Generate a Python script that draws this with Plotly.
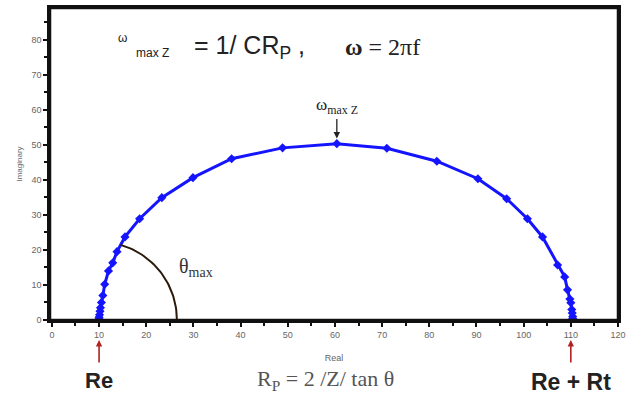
import numpy as np
import plotly.graph_objects as go

# Nyquist data (Real, Imaginary)
real = [10.0, 10.0, 10.1, 10.2, 10.3, 10.5, 10.8, 11.2, 12.0, 12.9, 13.8, 15.5, 18.6, 23.3,
        29.9, 38.1, 48.9, 60.4, 71.0, 81.6, 90.3, 96.4, 100.8, 104.0, 107.2, 108.7,
        109.3, 109.8, 110.0, 110.2, 110.3, 110.4, 110.4]
imag = [0.3, 0.8, 1.5, 2.5, 3.5, 5.0, 7.0, 10.2, 14.0, 16.3, 19.5, 23.7, 28.9, 34.9,
        40.6, 46.0, 49.1, 50.3, 49.0, 45.3, 40.3, 34.6, 28.9, 23.7, 15.7, 12.3,
        8.6, 6.0, 4.9, 3.0, 2.0, 1.0, 0.4]

x_ticks = [0, 10, 20, 30, 40, 50, 60, 70, 80, 90, 100, 110, 120]
y_ticks = [0, 10, 20, 30, 40, 50, 60, 70, 80]

Re = 10
ReRt = 110
theta_max_deg = 74

fig = go.Figure()

fig.add_trace(go.Scatter(
    x=real, y=imag, mode="lines+markers",
    line=dict(color="#1414ff", width=3),
    marker=dict(symbol="diamond", size=7, color="#1414ff"),
    showlegend=False, hoverinfo="skip"))

# theta arc (circular in pixels: ~4.72 px per x unit, ~3.5 px per y unit)
ang = np.linspace(0, np.radians(theta_max_deg), 40)
rx, ry = 16.5, 22.3
fig.add_trace(go.Scatter(
    x=Re + rx * np.cos(ang), y=ry * np.sin(ang), mode="lines",
    line=dict(color="#2b1a0a", width=2), showlegend=False, hoverinfo="skip"))

axis_common = dict(
    showgrid=False, zeroline=False, showline=True, linecolor="#111", linewidth=2.5,
    mirror=True, ticks="outside", ticklen=4, tickcolor="#111", tickwidth=2,
    automargin=False,
    minor=dict(dtick=5, ticks="outside", ticklen=3, tickcolor="#111", tickwidth=1.5),
    tickfont=dict(family="Arial", size=9, color="#666"))

fig.update_xaxes(
    range=[-0.4, 120], tickvals=x_ticks, ticktext=[str(v) for v in x_ticks],
    title=dict(text="Real", font=dict(family="Arial", size=9, color="#666"), standoff=17),
    **axis_common)
fig.update_yaxes(
    range=[0, 89], tickvals=y_ticks, ticktext=[str(v) for v in y_ticks],
    title=dict(text="Imaginary", font=dict(family="Arial", size=8, color="#666"), standoff=8),
    **axis_common)

# frame (top and right borders)
fig.add_shape(type="rect", xref="paper", yref="paper", x0=0, x1=1, y0=0, y1=1,
              line=dict(color="#111", width=2.5), layer="above")

PH = 312.0  # plot-area height in px, used to place texts below the axis


def py(px_below):
    return -px_below / PH


ann = []
# top-left formula, built from pieces
ann.append(dict(x=0.117, y=0.905, xref="paper", yref="paper", xanchor="left", yanchor="middle",
                showarrow=False, text="ω", font=dict(family="Arial", size=12, color="#222")))
ann.append(dict(x=0.148, y=0.855, xref="paper", yref="paper", xanchor="left", yanchor="middle",
                showarrow=False, text="max Z", font=dict(family="Arial", size=12, color="#222")))
ann.append(dict(x=0.25, y=0.875, xref="paper", yref="paper", xanchor="left", yanchor="middle",
                showarrow=False, text="= 1/ CR<sub>P</sub> ,",
                font=dict(family="Arial", size=25, color="#222")))
ann.append(dict(x=0.515, y=0.875, xref="paper", yref="paper", xanchor="left", yanchor="middle",
                showarrow=False, text="<b>ω</b> = 2πf",
                font=dict(family="Times New Roman, Liberation Serif", size=24, color="#222")))
ann.append(dict(x=60.4, y=51.8, xref="x", yref="y", showarrow=True, arrowhead=2, arrowsize=1,
                arrowwidth=1.3, arrowcolor="#222", ax=0, ay=-32,
                text="ω<sub>max Z</sub>",
                font=dict(family="Times New Roman, Liberation Serif", size=17, color="#222")))
ann.append(dict(x=26.6, y=15.0, xref="x", yref="y", xanchor="left", yanchor="middle", showarrow=False,
                text="θ<sub>max</sub>", font=dict(family="Times New Roman, Liberation Serif", size=20, color="#333")))
# red arrows below axis
for xv in [Re, ReRt]:
    ann.append(dict(x=xv, y=py(20), xref="x", yref="paper", showarrow=True, arrowhead=2,
                    arrowsize=0.8, arrowwidth=1.6, arrowcolor="#b22222", ax=0, ay=24, text=""))
ann.append(dict(x=Re, y=py(60), xref="x", yref="paper", xanchor="center", yanchor="middle",
                showarrow=False, text="<b>Re</b>", font=dict(family="Arial", size=22, color="#222")))
ann.append(dict(x=ReRt, y=py(62), xref="x", yref="paper", xanchor="center", yanchor="middle",
                showarrow=False, text="<b>Re + Rt</b>", font=dict(family="Arial", size=23, color="#222")))
ann.append(dict(x=58, y=py(60), xref="x", yref="paper", xanchor="center", yanchor="middle",
                showarrow=False, text="R<sub>P</sub> = 2 /Z/ tan θ",
                font=dict(family="Times New Roman, Liberation Serif", size=22, color="#555")))

fig.update_layout(
    width=635, height=398, margin=dict(l=50, r=17, t=8, b=78),
    paper_bgcolor="white", plot_bgcolor="white", annotations=ann)

# remove the default page margin so the figure fills the window exactly; hide the modebar
fig.write_html("out.html", config={"displayModeBar": False},
               post_script="document.body.style.margin='0';document.body.style.overflow='hidden';")
